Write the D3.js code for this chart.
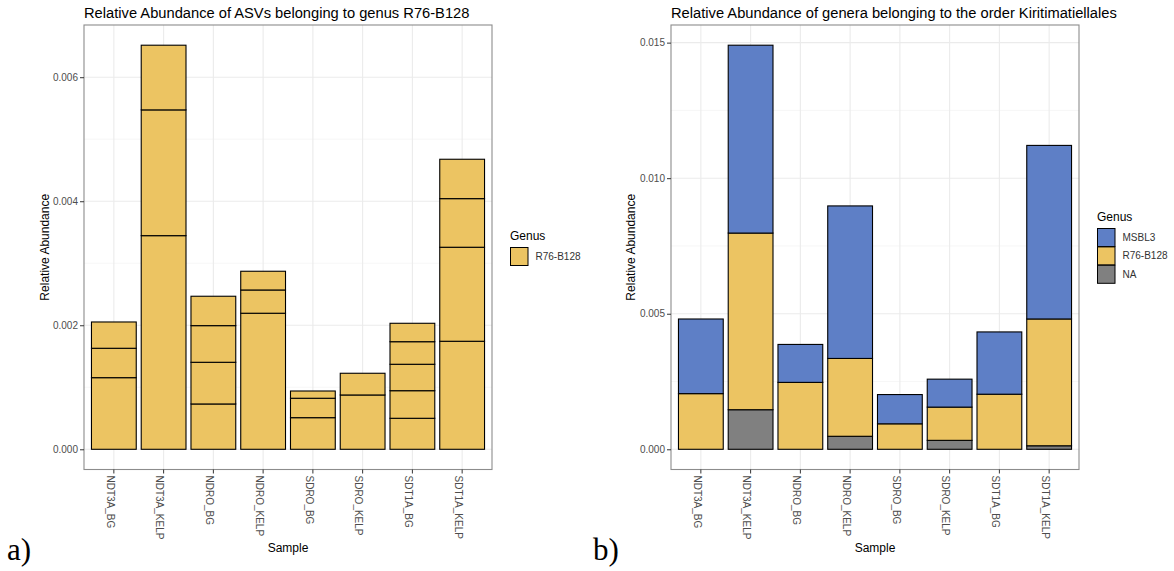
<!DOCTYPE html>
<html><head><meta charset="utf-8">
<script src="https://cdn.jsdelivr.net/npm/d3@7"></script>
<style>
body{margin:0;background:#fff;}
svg{display:block;font-family:"Liberation Sans",Arial,sans-serif;}
</style></head>
<body><svg id="chart" width="1174" height="571"></svg>
<script>
const samples = ["NDT3A_BG","NDT3A_KELP","NDRO_BG","NDRO_KELP","SDRO_BG","SDRO_KELP","SDT1A_BG","SDT1A_KELP"];
// Panel a: stacked ASV segments of genus R76-B128 (bottom to top) per sample
const asvStacks = [
  [0.001155, 0.000474, 0.000424],
  [0.003445, 0.002028, 0.001043],
  [0.000731, 0.000672, 0.000591, 0.000474],
  [0.002194, 0.000375, 0.000302],
  [0.000510, 0.000313, 0.000117],
  [0.000876, 0.000350],
  [0.000500, 0.000445, 0.000426, 0.000364, 0.000297],
  [0.001742, 0.001516, 0.000784, 0.000635]
];
// Panel b: genera of order Kiritimatiellales
const naVals    = [0, 0.00146, 0, 0.00048, 0, 0.00033, 0, 0.00013];
const r76Vals   = [0.002053, 0.006516, 0.002468, 0.002871, 0.000940, 0.001226, 0.002032, 0.004677];
const msbl3Vals = [0.002753, 0.006929, 0.001400, 0.005626, 0.001079, 0.001031, 0.002297, 0.006402];
const generaB = ["MSBL3","R76-B128","NA"];
const yTicksA = [0, 0.002, 0.004, 0.006];
const yTicksB = [0, 0.005, 0.010, 0.015];
const titleA = "Relative Abundance of ASVs belonging to genus R76-B128";
const titleB = "Relative Abundance of genera belonging to the order Kiritimatiellales";

const colors = {"MSBL3":"#5E7FC6","R76-B128":"#ECC462","NA":"#808080"};
const svg = d3.select("#chart");

function panel(opts){
  const {x0,x1,top,bottom,stacks,segColors,ticks,title,legendItems,legendX,legendY,letter,letterX,yTitleX} = opts;
  const g = svg.append("g");
  const totals = stacks.map(s=>d3.sum(s));
  const maxV = d3.max(totals);
  const y = d3.scaleLinear().domain([-0.05*maxV, 1.05*maxV]).range([bottom, top]);
  const x = d3.scaleBand().domain(samples).range([x0,x1]).paddingInner(0.1).paddingOuter(0.15);
  // minor grid
  const minor = [];
  for(let i=0;i<ticks.length-1;i++) minor.push((ticks[i]+ticks[i+1])/2);
  const step = ticks[1]-ticks[0];
  [ticks[0]-step/2, ticks[ticks.length-1]+step/2].forEach(v=>{ if(v>y.domain()[0] && v<y.domain()[1]) minor.push(v);});
  g.selectAll(".minor").data(minor).join("line")
    .attr("x1",x0).attr("x2",x1).attr("y1",d=>y(d)).attr("y2",d=>y(d))
    .attr("stroke","#F3F3F3").attr("stroke-width",0.7);
  g.selectAll(".major").data(ticks).join("line")
    .attr("x1",x0).attr("x2",x1).attr("y1",d=>y(d)).attr("y2",d=>y(d))
    .attr("stroke","#EBEBEB").attr("stroke-width",1.1);
  g.selectAll(".vmajor").data(samples).join("line")
    .attr("x1",d=>x(d)+x.bandwidth()/2).attr("x2",d=>x(d)+x.bandwidth()/2)
    .attr("y1",top).attr("y2",bottom)
    .attr("stroke","#EBEBEB").attr("stroke-width",1.1);
  // bars
  stacks.forEach((s,i)=>{
    let cum = 0;
    s.forEach((v,j)=>{
      if(v<=0) return;
      const y0 = y(cum), y1 = y(cum+v);
      g.append("rect")
        .attr("x",x(samples[i])).attr("width",x.bandwidth())
        .attr("y",y1).attr("height",y0-y1)
        .attr("fill",segColors(j)).attr("stroke","#000").attr("stroke-width",1.1);
      cum += v;
    });
  });
  // border
  g.append("rect").attr("x",x0).attr("y",top).attr("width",x1-x0).attr("height",bottom-top)
    .attr("fill","none").attr("stroke","#8C8C8C").attr("stroke-width",1.1);
  // y axis
  const ya = g.append("g").attr("transform",`translate(${x0},0)`)
    .call(d3.axisLeft(y).tickValues(ticks).tickFormat(d3.format(".3f")).tickSize(4).tickPadding(2));
  ya.select(".domain").remove();
  ya.selectAll(".tick line").attr("stroke","#333");
  ya.selectAll(".tick text").attr("fill","#4D4D4D").style("font-size","10px").style("font-family","Liberation Sans, Arial, sans-serif");
  // x axis
  const xa = g.append("g").attr("transform",`translate(0,${bottom})`)
    .call(d3.axisBottom(x).tickSize(4).tickFormat(""));
  xa.select(".domain").remove();
  xa.selectAll(".tick line").attr("stroke","#333");
  g.selectAll(".xlab").data(samples).join("text")
    .attr("transform",d=>`translate(${x(d)+x.bandwidth()/2-7.3},${bottom+6}) rotate(90)`)
    .attr("text-anchor","start").attr("fill","#4D4D4D").style("font-size","10px")
    .text(d=>d);
  // titles
  g.append("text").attr("x",x0).attr("y",18).style("font-size","14.7px").attr("fill","#000").text(title);
  g.append("text").attr("transform",`translate(${yTitleX},${(top+bottom)/2}) rotate(-90)`)
    .attr("text-anchor","middle").style("font-size","12px").attr("fill","#000").text("Relative Abundance");
  g.append("text").attr("x",(x0+x1)/2).attr("y",552).attr("text-anchor","middle")
    .style("font-size","12px").attr("fill","#000").text("Sample");
  // legend
  g.append("text").attr("x",legendX).attr("y",legendY).style("font-size","12px").attr("fill","#000").text("Genus");
  legendItems.forEach((name,i)=>{
    const ky = legendY+7.5+i*18.4;
    g.append("rect").attr("x",legendX+0.5).attr("y",ky).attr("width",17.5).attr("height",18)
      .attr("fill",colors[name]).attr("stroke","#000").attr("stroke-width",1);
    g.append("text").attr("x",legendX+25.5).attr("y",ky+9).attr("dy","0.35em")
      .style("font-size","10px").attr("fill","#333").text(name);
  });
  g.append("text").attr("x",letterX).attr("y",560).style("font-family","Liberation Serif, Times New Roman, serif")
    .style("font-size","31px").attr("fill","#000").text(letter);
}

panel({x0:84,x1:492,top:25,bottom:469.5,
  stacks:asvStacks, segColors:()=>colors["R76-B128"], ticks:yTicksA, title:titleA,
  legendItems:["R76-B128"], legendX:510, legendY:240, letter:"a)", letterX:7, yTitleX:48.5});

const stacksB = samples.map((s,i)=>[naVals[i], r76Vals[i], msbl3Vals[i]]);
const orderB = ["NA","R76-B128","MSBL3"];
panel({x0:671,x1:1079,top:25,bottom:469.5,
  stacks:stacksB, segColors:j=>colors[orderB[j]], ticks:yTicksB, title:titleB,
  legendItems:generaB, legendX:1097, legendY:221, letter:"b)", letterX:593, yTitleX:635});
</script></body></html>
